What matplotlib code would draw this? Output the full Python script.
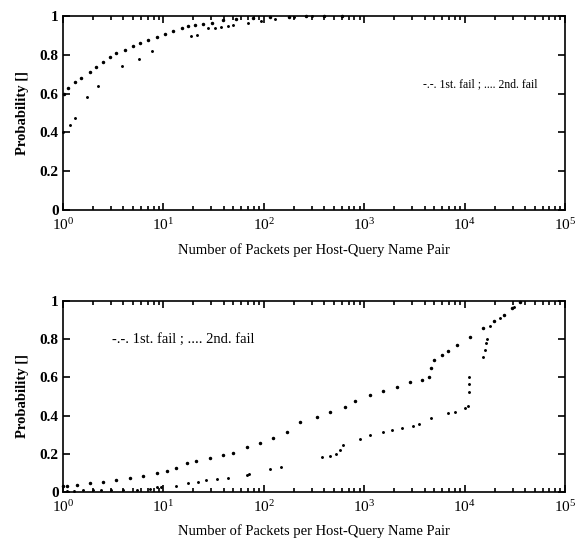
import matplotlib
matplotlib.use('Agg')
import matplotlib.pyplot as plt
from matplotlib.ticker import LogLocator, NullFormatter

plt.rcParams['font.family'] = ['Liberation Serif', 'DejaVu Serif']
plt.rcParams['mathtext.fontset'] = 'stix'

# Top panel: CDF
top_first_x = [1.02, 1.13, 1.32, 1.53, 1.86, 2.13, 2.52, 2.94, 3.42, 4.14, 5.02, 5.84, 7.07, 8.57, 10.4,
               12.5, 15.2, 17.7, 20.7, 25, 30.3, 39.5, 53.5, 78, 115, 180, 265, 400, 600]
top_first_y = [0.60, 0.627, 0.66, 0.68, 0.71, 0.735, 0.765, 0.79, 0.81, 0.825, 0.845, 0.862, 0.876, 0.89, 0.907,
               0.92, 0.937, 0.948, 0.954, 0.959, 0.965, 0.976, 0.983, 0.988, 0.993, 0.996, 1.0, 1.0, 1.0]
top_second_x = [1.0, 1.17, 1.32, 1.75, 2.25, 3.93, 5.7, 7.65, 19.1, 21.5, 28, 32.6, 38, 44, 49.6, 70, 95, 130, 200, 300]
top_second_y = [0.40, 0.44, 0.476, 0.58, 0.64, 0.742, 0.78, 0.82, 0.897, 0.90, 0.937, 0.937, 0.945, 0.948, 0.954,
                0.965, 0.975, 0.985, 0.995, 1.0]

# Bottom panel
bot_first_x = [1.0, 1.09, 1.37, 1.86, 2.52, 3.42, 4.64, 6.3, 8.57, 10.8, 13.5, 17.1, 21.4, 29, 39.5, 49.6, 67.5,
               91.9, 124, 169, 229, 336, 456, 643, 810, 1142, 1553, 2110, 2860, 3740, 4450, 4630, 4960, 5890,
               6860, 8330, 11300, 15300, 19400, 24400, 29600, 35800]
bot_first_y = [0.03, 0.033, 0.037, 0.045, 0.054, 0.063, 0.072, 0.084, 0.098, 0.11, 0.124, 0.15, 0.164, 0.176,
               0.194, 0.206, 0.234, 0.255, 0.281, 0.316, 0.368, 0.39, 0.42, 0.443, 0.478, 0.508, 0.529, 0.551,
               0.574, 0.586, 0.604, 0.648, 0.691, 0.717, 0.738, 0.77, 0.813, 0.857, 0.892, 0.927, 0.962, 0.996]
bot_second_x = [1.1, 1.3, 1.6, 2.0, 2.4, 3.0, 4.0, 5.5, 7.35, 8.57, 9.6, 13.5, 17.7, 22.2, 26.9, 34, 44, 67.5, 72,
                115, 150, 377, 456, 530, 580, 620, 908, 1142, 1553, 1880, 2360, 3070, 3530, 4670, 6860, 7990,
                10100, 10900, 11100, 11100, 11100, 15300, 16000, 16400, 16700, 17900, 22600, 30700]
bot_second_y = [0.005, 0.005, 0.008, 0.008, 0.01, 0.01, 0.01, 0.012, 0.014, 0.025, 0.025, 0.031, 0.045, 0.054,
                0.063, 0.066, 0.072, 0.089, 0.092, 0.12, 0.129, 0.185, 0.19, 0.2, 0.22, 0.246, 0.276, 0.298,
                0.316, 0.325, 0.333, 0.347, 0.354, 0.389, 0.412, 0.42, 0.438, 0.452, 0.522, 0.564, 0.604, 0.708,
                0.743, 0.782, 0.80, 0.866, 0.909, 0.97]

legend_text = '-.-. 1st. fail ; .... 2nd. fail'
xlabel = 'Number of Packets per Host-Query Name Pair'
yticks = [0, 0.2, 0.4, 0.6, 0.8, 1]
yticklabels = ['0', '0.2', '0.4', '0.6', '0.8', '1']

fig = plt.figure(figsize=(5.76, 5.46), dpi=100)
ax1 = fig.add_axes([0.109, 0.615, 0.872, 0.356])
ax2 = fig.add_axes([0.109, 0.099, 0.872, 0.350])


def style(ax):
    ax.set_xscale('log')
    ax.set_xlim(1, 1e5)
    ax.set_ylim(0, 1)
    ax.xaxis.set_major_locator(LogLocator(base=10, numticks=10))
    ax.xaxis.set_minor_locator(LogLocator(base=10, subs=range(2, 10), numticks=10))
    ax.xaxis.set_minor_formatter(NullFormatter())
    ax.set_yticks(yticks)
    ax.set_yticklabels(yticklabels, fontweight='bold')
    ax.tick_params(which='both', direction='in', top=True, right=True, width=1.2)
    ax.tick_params(which='major', length=5, labelsize=11, pad=3)
    ax.tick_params(axis='x', which='major', pad=5)
    ax.tick_params(which='minor', length=3)
    for s in ax.spines.values():
        s.set_linewidth(1.2)
    ax.set_xlabel(xlabel, fontsize=10.5, labelpad=7)
    ax.set_ylabel('Probability []', fontsize=10.5, fontweight='bold', labelpad=8)


ax1.plot(top_first_x, top_first_y, 'o', color='black', markersize=1.5, clip_on=False)
ax1.plot(top_second_x, top_second_y, 'o', color='black', markersize=1.1, clip_on=False)
style(ax1)
ax1.text(0.717, 0.65, legend_text, transform=ax1.transAxes, fontsize=8.5, va='center')

ax2.plot(bot_first_x, bot_first_y, 'o', color='black', markersize=1.5, clip_on=False)
ax2.plot(bot_second_x, bot_second_y, 'o', color='black', markersize=1.1, clip_on=False)
style(ax2)
ax2.text(0.098, 0.796, legend_text, transform=ax2.transAxes, fontsize=10.5, va='center')

fig.savefig('out.png', dpi=100)
